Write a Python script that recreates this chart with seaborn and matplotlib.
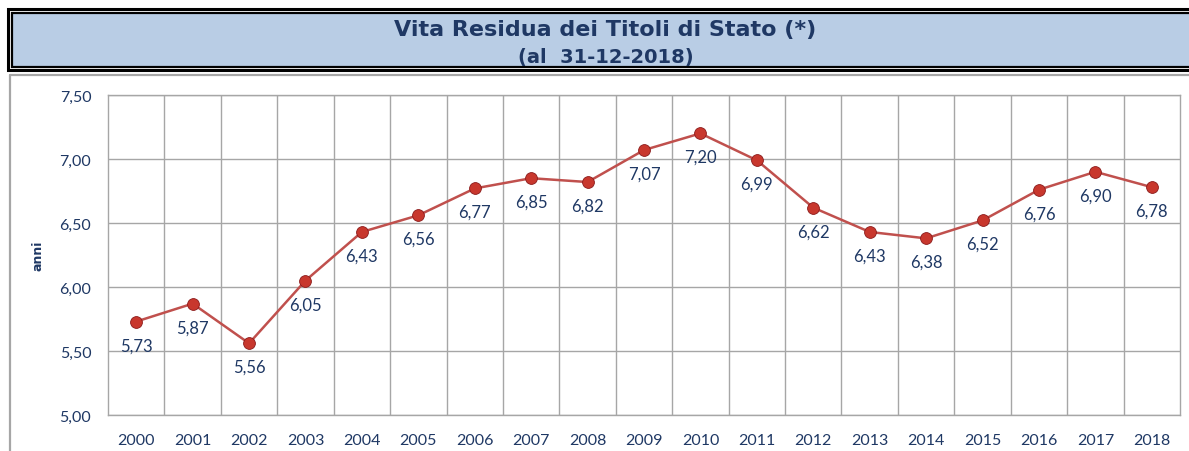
import numpy as np
import pandas as pd
import matplotlib
matplotlib.use("Agg")
import matplotlib.pyplot as plt
from matplotlib.patches import Rectangle
from matplotlib.lines import Line2D
import seaborn as sns

# dati
anni = [2000, 2001, 2002, 2003, 2004, 2005, 2006, 2007, 2008, 2009,
        2010, 2011, 2012, 2013, 2014, 2015, 2016, 2017, 2018]
vita_residua = [5.73, 5.87, 5.56, 6.05, 6.43, 6.56, 6.77, 6.85, 6.82, 7.07,
                7.20, 6.99, 6.62, 6.43, 6.38, 6.52, 6.76, 6.90, 6.78]
y_ticks = [5.00, 5.50, 6.00, 6.50, 7.00, 7.50]

titolo = "Vita Residua dei Titoli di Stato (*)"
sottotitolo = "(al  31-12-2018)"

NAVY = "#1F3864"
LINEA = "#C0504D"
GRIGIO = "#A6A6A6"

df = pd.DataFrame({"anno": anni, "valore": vita_residua})

sns.set_theme(style="white")
plt.rcParams["font.family"] = ["Lato", "DejaVu Sans"]

W, H = 1189, 452
fig = plt.figure(figsize=(W / 100, H / 100), dpi=100)

# riquadro del titolo (doppio bordo)
def rect_px(x0, y0, x1, y1, **kw):
    r = Rectangle((x0 / W, 1 - y1 / H), (x1 - x0) / W, (y1 - y0) / H,
                  transform=fig.transFigure, **kw)
    fig.patches.append(r)

rect_px(8, 10, 1200, 71, facecolor="white", edgecolor="black", linewidth=2.2)
rect_px(12, 13.5, 1200, 67.5, facecolor="#B9CDE5", edgecolor="black", linewidth=1.6)

fig.text(605 / W, 1 - 30 / H, titolo, ha="center", va="center", fontsize=16,
         fontweight="bold", color=NAVY, family=["DejaVu Sans"])
fig.text(606 / W, 1 - 57 / H, sottotitolo, ha="center", va="center", fontsize=14,
         fontweight="bold", color=NAVY, family=["DejaVu Sans"])

# cornice dell'area del grafico
fig.lines.append(Line2D([10 / W, 1.01], [1 - 76 / H, 1 - 76 / H], transform=fig.transFigure,
                        color=GRIGIO, linewidth=1.6))
fig.lines.append(Line2D([10 / W, 10 / W], [1 - 76 / H, -0.01], transform=fig.transFigure,
                        color=GRIGIO, linewidth=1.6))

ax = fig.add_axes([108 / W, 1 - 416 / H, (1180 - 108) / W, (416 - 96) / H])

sns.lineplot(data=df, x="anno", y="valore", ax=ax, color=LINEA, linewidth=1.8,
             marker="o", markersize=8.5, markerfacecolor="#C8372D",
             markeredgecolor="#8B1A1A", markeredgewidth=0.6, zorder=3)

for a, v in zip(anni, vita_residua):
    ax.annotate(f"{v:.2f}".replace(".", ","), (a, v), xytext=(0, -17),
                textcoords="offset points", ha="center", va="center",
                fontsize=12, color=NAVY, zorder=4)

ax.set_xlim(anni[0] - 0.5, anni[-1] + 0.5)
ax.set_ylim(y_ticks[0], y_ticks[-1])
ax.set_xticks(anni)
ax.set_xticklabels([str(a) for a in anni])
ax.set_xticks(np.array(anni[:-1]) + 0.5, minor=True)
ax.set_yticks(y_ticks)
ax.set_yticklabels([f"{t:.2f}".replace(".", ",") for t in y_ticks])

ax.grid(False)
ax.grid(True, which="minor", axis="x", color=GRIGIO, linewidth=1)
ax.grid(True, which="major", axis="y", color=GRIGIO, linewidth=1)
ax.tick_params(axis="both", which="both", length=0, labelsize=11.5, labelcolor=NAVY)
ax.tick_params(axis="x", pad=13)
ax.tick_params(axis="y", pad=12)
for s in ax.spines.values():
    s.set_color(GRIGIO)
    s.set_linewidth(1)

ax.set_xlabel("")
ax.set_ylabel("anni", fontsize=9, fontweight="bold", color=NAVY, family=["DejaVu Sans"])
ax.yaxis.set_label_coords((45 - 108) / (1180 - 108), 0.5)

fig.savefig("out.png", dpi=100)
